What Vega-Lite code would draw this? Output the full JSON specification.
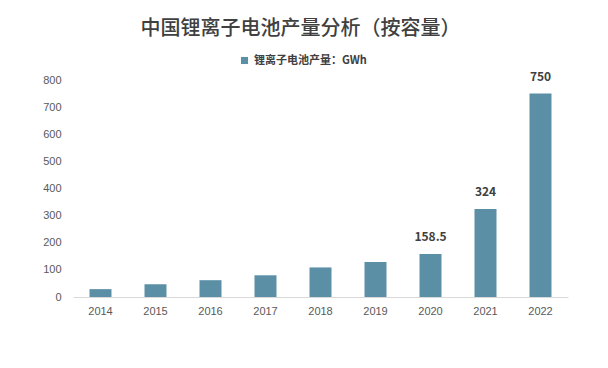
{
  "$schema": "https://vega.github.io/schema/vega-lite/v6.json",
  "autosize": "none",
  "width": 495,
  "height": 217,
  "padding": {"left": 73, "top": 80, "right": 40, "bottom": 71},
  "background": "#ffffff",
  "title": {
    "text": "中国锂离子电池产量分析（按容量）",
    "font": "Noto Sans CJK SC",
    "fontSize": 20,
    "fontWeight": 500,
    "color": "#404040",
    "anchor": "middle",
    "frame": "group",
    "dx": -20,
    "offset": 16
  },
  "data": {
    "values": [
      {"year": "2014", "value": 29, "label": ""},
      {"year": "2015", "value": 47, "label": ""},
      {"year": "2016", "value": 62, "label": ""},
      {"year": "2017", "value": 80, "label": ""},
      {"year": "2018", "value": 109, "label": ""},
      {"year": "2019", "value": 129, "label": ""},
      {"year": "2020", "value": 158.5, "label": "158.5"},
      {"year": "2021", "value": 324, "label": "324"},
      {"year": "2022", "value": 750, "label": "750"}
    ]
  },
  "encoding": {
    "x": {
      "field": "year",
      "type": "ordinal",
      "scale": {"paddingInner": 0.6, "paddingOuter": 0.3},
      "axis": {
        "title": null,
        "labelAngle": 0,
        "labelFont": "Liberation Sans",
        "labelFontSize": 11,
        "labelColor": "#595959",
        "labelPadding": 8,
        "domainColor": "#d9d9d9",
        "domainWidth": 1,
        "ticks": false
      }
    },
    "y": {
      "field": "value",
      "type": "quantitative",
      "scale": {"domain": [0, 800]},
      "axis": {
        "title": null,
        "values": [0, 100, 200, 300, 400, 500, 600, 700, 800],
        "labelFont": "Liberation Sans",
        "labelFontSize": 11,
        "labelColor": "#595959",
        "labelPadding": 12,
        "domain": false,
        "ticks": false,
        "grid": false
      }
    }
  },
  "layer": [
    {
      "mark": {"type": "bar"},
      "encoding": {
        "color": {
          "datum": "锂离子电池产量：GWh",
          "type": "nominal",
          "scale": {"range": ["#5b8fa6"]},
          "legend": {
            "title": null,
            "orient": "none",
            "legendX": 166,
            "legendY": -25,
            "symbolType": "square",
            "symbolSize": 50,
            "labelFont": "Noto Sans CJK SC",
            "labelFontSize": 11,
            "labelFontWeight": "bold",
            "labelColor": "#404040",
            "labelOffset": 4
          }
        }
      }
    },
    {
      "mark": {
        "type": "text",
        "dy": -10,
        "baseline": "bottom",
        "font": "Noto Sans CJK SC",
        "fontSize": 12,
        "fontWeight": "bold",
        "color": "#404040"
      },
      "encoding": {
        "text": {"field": "label"}
      }
    }
  ],
  "config": {
    "view": {"stroke": null}
  }
}
